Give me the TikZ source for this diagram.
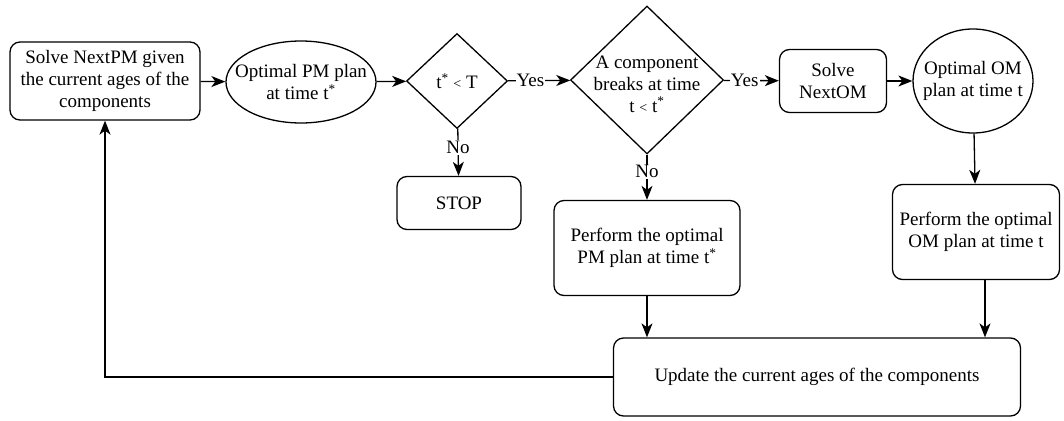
\documentclass[tikz,border=0pt]{standalone}
\usepackage{fontspec}
\setmainfont{Liberation Serif}
\usepackage{tikz}
\usetikzlibrary{arrows.meta}
\usetikzlibrary{shapes.geometric}
\tikzset{basic/.style={draw,line width=1.3pt,fill=white,align=center,
                       font=\fontsize{19}{22}\selectfont}}
\tikzset{stepbox/.style={basic,rectangle,rounded corners=10pt}}
\tikzset{plan/.style={basic,ellipse,inner xsep=-16pt,inner ysep=0pt}}
\tikzset{choice/.style={basic,diamond,inner sep=0pt}}
\tikzset{txt/.style={align=center,font=\fontsize{19}{22}\selectfont,inner sep=0pt}}
\newcommand{\lt}{{\fontsize{14}{14}\selectfont<}}

\begin{document}
\begin{tikzpicture}[x=1pt,y=1pt,>={Stealth[length=14pt,width=11pt,inset=4pt]},line width=1.3pt]
  \useasboundingbox (0,0) rectangle (1064,-420);
  % upper row: solve, plan, checks
  \node (nextpm) [stepbox,minimum width=190pt,minimum height=78pt] at (105,-81)
        {Solve NextPM given\\the current ages of the\\components};
  \node (pmplan) [plan,minimum width=150pt,minimum height=82pt] at (301,-82)
        {Optimal PM plan\\at time t\textsuperscript{*}};
  \node (chk) [choice,minimum width=101pt,minimum height=95pt] at (457,-81) {};
  \node (chktxt) [txt] at (chk) {t\textsuperscript{*} \lt{} T};
  \node (brk) [choice,minimum width=153pt,minimum height=148pt] at (647,-80) {};
  \node (brktxt) [txt] at (647,-84) {A component\\breaks at time\\t \lt{} t\textsuperscript{*}};
  \node (nextom) [stepbox,minimum width=107pt,minimum height=63pt] at (833,-81)
        {Solve\\NextOM};
  \node (omplan) [plan,minimum width=120pt,minimum height=104pt] at (973,-81)
        {Optimal OM\\plan at time t};
  % lower row: actions
  \node (stop) [stepbox,minimum width=124pt,minimum height=53pt] at (459,-203) {STOP};
  \node (dopm) [stepbox,minimum width=186pt,minimum height=95pt] at (647,-248)
        {Perform the optimal\\PM plan at time t\textsuperscript{*}};
  \node (doom) [stepbox,minimum width=167pt,minimum height=95pt] at (976,-232)
        {Perform the optimal\\OM plan at time t};
  \node (upd) [stepbox,minimum width=407pt,minimum height=78pt] at (817,-377)
        {Update the current ages of the components};
  \coordinate (omdown) at (985,-279.5);

  % connectors
  \path[->]
    (nextpm) edge (pmplan)
    (pmplan) edge (chk)
    (chk) edge node[txt,fill=white,inner sep=1pt,pos=0.36]{Yes} (brk)
    (brk) edge node[txt,fill=white,inner sep=1pt,pos=0.38]{Yes} (nextom)
    (nextom) edge (omplan)
    (omplan) edge (doom)
    (chk) edge node[txt,fill=white,inner sep=1pt,pos=0.4]{No} (stop)
    (brk) edge node[txt,fill=white,inner sep=1pt,pos=0.38]{No} (dopm)
    (dopm) edge (dopm |- upd.north)
    (omdown) edge (omdown |- upd.north)
    ;
  \draw[->] (upd.west) -| (nextpm.south);
\end{tikzpicture}
\end{document}
